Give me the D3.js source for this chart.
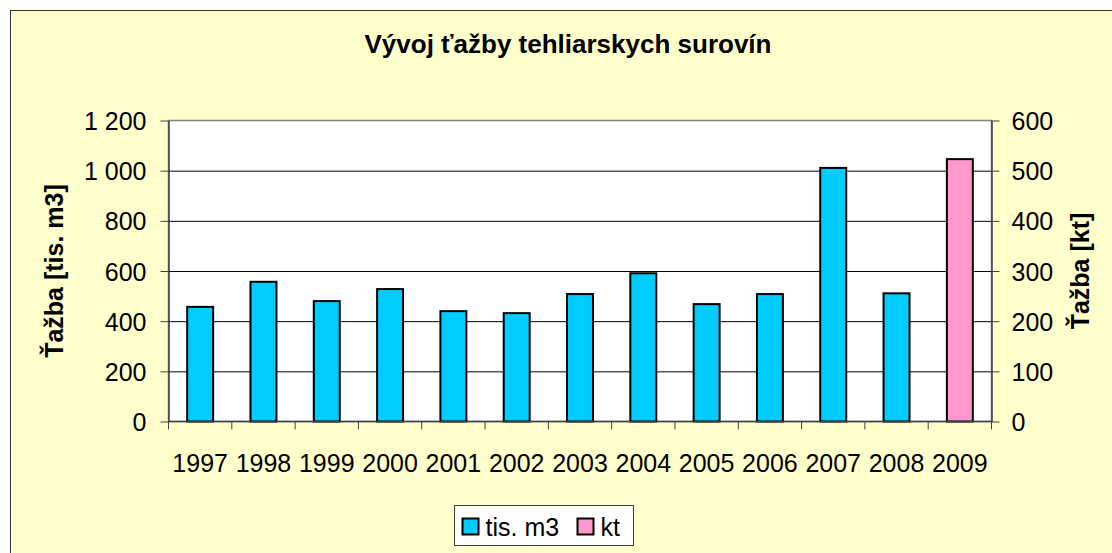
<!DOCTYPE html>
<html>
<head>
  <meta charset="utf-8">
  <title>Vývoj ťažby tehliarskych surovín</title>
  <script src="https://d3js.org/d3.v7.min.js"></script>
  <style>
    body { margin: 0; background: #fff; }
    text { font-family: "Liberation Sans", Arial, sans-serif; fill: #000; }
    .axis path { stroke: #404040; stroke-width: 1.5px; }
    .axis line { stroke: #404040; stroke-width: 1px; }
    .axis text { font-size: 25px; }
    .gridlines line { stroke: #000; stroke-width: 1px; }
    .gridlines .domain { stroke: none; }
    .bar { stroke: #000; stroke-width: 2px; }
  </style>
</head>
<body>
  <svg id="chart" width="1112" height="553"></svg>
  <script>
    // data
    const years = ["1997", "1998", "1999", "2000", "2001", "2002", "2003",
                   "2004", "2005", "2006", "2007", "2008", "2009"];
    const tisM3 = [457, 557, 480, 528, 440, 432, 508, 591, 468, 508, 1011, 511, null];
    const kt = [null, null, null, null, null, null, null, null, null, null, null, null, 523];
    const leftTicks = [0, 200, 400, 600, 800, 1000, 1200];
    const rightTicks = [0, 100, 200, 300, 400, 500, 600];
    const seriesNames = ["tis. m3", "kt"];
    const seriesColors = ["#00CCFF", "#FF99CC"];

    const svg = d3.select("#chart");
    const margin = { top: 120.5, left: 168.5, right: 991.5, bottom: 421.5 };
    const chartWidth = margin.right - margin.left;
    const chartHeight = margin.bottom - margin.top;

    // chart background
    svg.append("rect")
      .attr("x", 10.5).attr("y", 10.5)
      .attr("width", 1120).attr("height", 560)
      .attr("fill", "#FFFFCC").attr("stroke", "#333").attr("stroke-width", 1);

    svg.append("text")
      .attr("x", 568).attr("y", 53)
      .attr("text-anchor", "middle")
      .style("font-size", "26px").style("font-weight", "bold")
      .text("Vývoj ťažby tehliarskych surovín");

    const xScale = d3.scaleBand().domain(years).range([0, chartWidth]).paddingInner(0.6).paddingOuter(0.3);
    const yLeft = d3.scaleLinear().domain([0, 1200]).range([chartHeight, 0]);
    const yRight = d3.scaleLinear().domain([0, 600]).range([chartHeight, 0]);

    const chartArea = svg.append("g").attr("transform", `translate(${margin.left},${margin.top})`);

    // plot area
    chartArea.append("rect")
      .attr("x", 0).attr("y", 0)
      .attr("width", chartWidth).attr("height", chartHeight)
      .attr("fill", "#fff").attr("stroke", "#808080").attr("stroke-width", 1.5);

    let yGridlines = d3.axisLeft(yLeft).tickValues(leftTicks).tickSize(-chartWidth).tickFormat("");
    chartArea.append("g").attr("class", "gridlines").call(yGridlines)
      .selectAll(".tick").filter(d => d === 0 || d === 1200).remove();

    // bars
    const step = chartWidth / years.length;
    const barW = step * 0.41;
    const barX = i => i * step + (step - barW) / 2;

    chartArea.selectAll("rect.bar.m3").data(tisM3.map((v, i) => ({ v, i })).filter(d => d.v !== null))
      .join("rect").attr("class", "bar m3")
      .attr("x", d => barX(d.i))
      .attr("width", barW)
      .attr("y", d => yLeft(d.v))
      .attr("height", d => chartHeight - yLeft(d.v))
      .attr("fill", seriesColors[0]);

    chartArea.selectAll("rect.bar.kt").data(kt.map((v, i) => ({ v, i })).filter(d => d.v !== null))
      .join("rect").attr("class", "bar kt")
      .attr("x", d => barX(d.i))
      .attr("width", barW)
      .attr("y", d => yRight(d.v))
      .attr("height", d => chartHeight - yRight(d.v))
      .attr("fill", seriesColors[1]);

    // axes
    let yAxisL = d3.axisLeft(yLeft).tickValues(leftTicks).tickSize(8).tickSizeOuter(0).tickPadding(14)
      .tickFormat(d => d3.format(",")(d).replace(/,/g, " "));
    chartArea.append("g").attr("class", "axis").call(yAxisL)
      .selectAll("text").attr("dy", "0.36em");

    let yAxisR = d3.axisRight(yRight).tickValues(rightTicks).tickSize(8).tickSizeOuter(0).tickPadding(12);
    chartArea.append("g").attr("class", "axis")
      .attr("transform", `translate(${chartWidth},0)`).call(yAxisR)
      .selectAll("text").attr("dy", "0.36em");

    // x axis: ticks at category boundaries
    const xLine = chartArea.append("g").attr("class", "axis")
      .attr("transform", `translate(0,${chartHeight})`);
    xLine.append("path").attr("d", `M0,0H${chartWidth}`).attr("fill", "none");
    xLine.selectAll("line").data(d3.range(years.length + 1))
      .join("line")
      .attr("x1", i => i * step).attr("x2", i => i * step)
      .attr("y1", 0).attr("y2", 8);
    xLine.selectAll("text").data(years)
      .join("text")
      .attr("x", d => xScale(d) + xScale.bandwidth() / 2)
      .attr("y", 50)
      .attr("text-anchor", "middle")
      .text(d => d);

    // axis titles
    svg.append("text")
      .attr("transform", `translate(63,${margin.top + chartHeight / 2}) rotate(-90)`)
      .attr("text-anchor", "middle")
      .style("font-size", "25px").style("font-weight", "bold")
      .text("Ťažba [tis. m3]");

    svg.append("text")
      .attr("transform", `translate(1089,${margin.top + chartHeight / 2}) rotate(-90)`)
      .attr("text-anchor", "middle")
      .style("font-size", "25px").style("font-weight", "bold")
      .text("Ťažba [kt]");

    // legend
    const legend = svg.append("g").attr("transform", "translate(454.5,505.5)");
    legend.append("rect")
      .attr("width", 179).attr("height", 40)
      .attr("fill", "#fff").attr("stroke", "#404040").attr("stroke-width", 1);
    const legendX = [8, 123];
    seriesNames.forEach((name, i) => {
      legend.append("rect")
        .attr("x", legendX[i]).attr("y", 13)
        .attr("width", 16).attr("height", 16)
        .attr("fill", seriesColors[i]).attr("stroke", "#000").attr("stroke-width", 2);
      legend.append("text")
        .attr("x", legendX[i] + 23).attr("y", 30)
        .style("font-size", "25px")
        .text(name);
    });
  </script>
</body>
</html>
